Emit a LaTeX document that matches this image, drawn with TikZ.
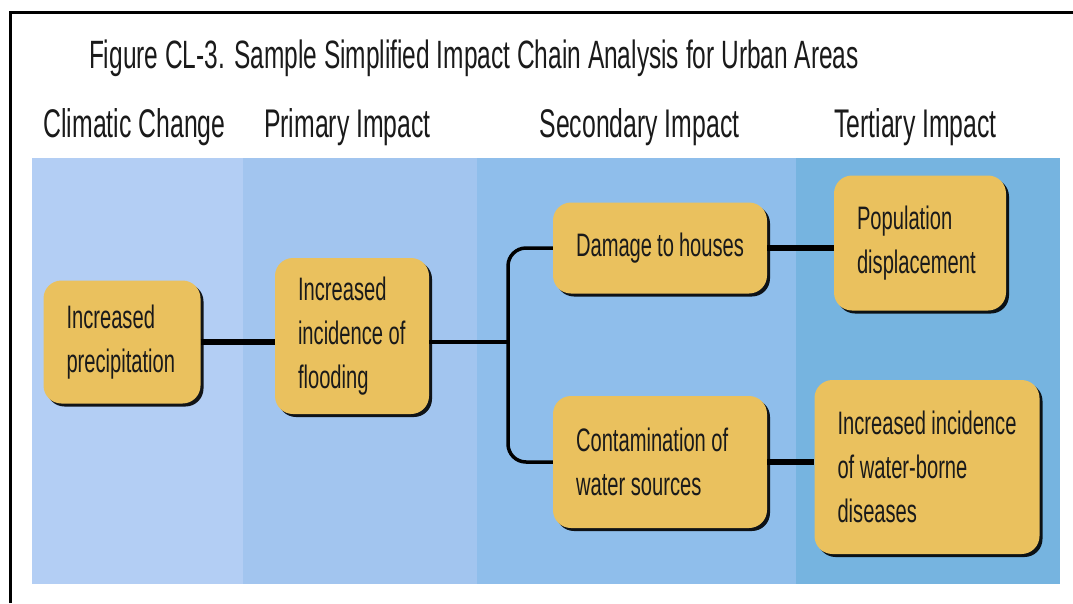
\documentclass[tikz,border=0pt]{standalone}
\usepackage{fontspec}
\setmainfont{Liberation Sans}[FakeStretch=0.62]
\usepackage{tikz}
\usetikzlibrary{shadows}
\definecolor{bandA}{HTML}{B3CEF4}
\definecolor{bandB}{HTML}{A2C5EF}
\definecolor{bandC}{HTML}{8FBEEB}
\definecolor{bandD}{HTML}{76B4E0}
\definecolor{cajafill}{HTML}{EAC15E}
\definecolor{tinta}{HTML}{1A1A1A}
\tikzset{
	titulo/.style={anchor=base, text=tinta, font=\fontsize{39.5}{44}\selectfont, inner sep=0pt},
	columna/.style={anchor=base, text=tinta, font=\fontsize{40}{44}\selectfont, inner sep=0pt},
	caja/.style={rectangle, rounded corners=18pt, fill=cajafill, text=tinta,
		font=\fontsize{32.5}{44}\selectfont, align=flush left, inner xsep=23pt, inner ysep=0pt,
		drop shadow={shadow xshift=3pt, shadow yshift=-3pt, fill=black, opacity=0.9}},
	grueso/.style={line width=6pt, black},
	fino/.style={line width=3.5pt, black, rounded corners=18pt}
}

\begin{document}
\begin{tikzpicture}[x=1pt, y=-1pt]
			\useasboundingbox (0,0) rectangle (1073,603);
			% marco
			\draw[line width=3pt, black] (10,603) -- (10,12) -- (1073,12);
			% franjas
			\fill[bandA] (32,158) rectangle (243,584);
			\fill[bandB] (243,158) rectangle (477,584);
			\fill[bandC] (477,158) rectangle (796,584);
			\fill[bandD] (796,158) rectangle (1060,584);
			
			\node[titulo] (tit) at (474,68) {Figure CL-3. Sample Simplified Impact Chain Analysis for Urban Areas};
			\node[columna] (c1) at (134.5,137) {Climatic Change};
			\node[columna] (c2) at (347.5,137) {Primary Impact};
			\node[columna] (c3) at (639.5,137) {Secondary Impact};
			\node[columna] (c4) at (915.5,137) {Tertiary Impact};
			
			\node[caja, minimum width=157pt, minimum height=123pt, text width=111pt] (precip) at (122,342) {Increased\\precipitation};
			\node[caja, minimum width=154pt, minimum height=156pt, text width=108pt] (flood) at (352,336) {Increased\\incidence~of\\flooding};
			\node[caja, minimum width=214pt, minimum height=91pt, text width=168pt] (damage) at (660,248) {Damage~to~houses};
			\node[caja, minimum width=214pt, minimum height=132pt, text width=168pt] (contam) at (660,462) {Contamination~of\\water~sources};
			\node[caja, minimum width=172pt, minimum height=135pt, text width=126pt] (pop) at (920,243) {Population\\displacement};
			\node[caja, minimum width=225pt, minimum height=174pt, text width=179pt] (dis) at (927,467) {Increased~incidence\\of~water-borne\\diseases};
			
			\coordinate (fork) at (508,342);
			\draw[grueso] (precip.east) -- (precip.east -| flood.west);
			\draw[fino] (flood.east |- fork) -- (fork);
			\draw[fino] (damage.west) -| (fork) |- (contam.west);
			\draw[grueso] (damage.east) -- (damage.east -| pop.west);
			\draw[grueso] (contam.east) -- (contam.east -| dis.west);
		\end{tikzpicture}
\end{document}
